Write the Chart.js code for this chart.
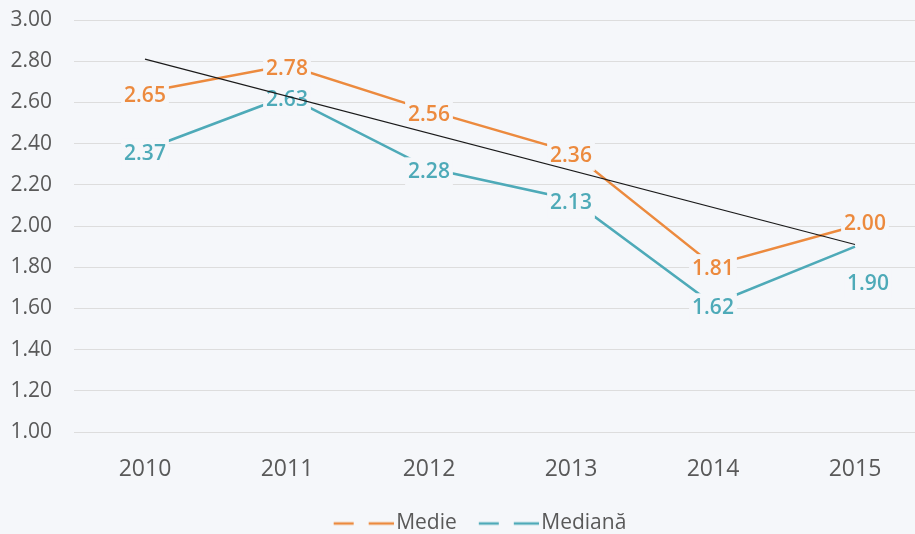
<!DOCTYPE html>
<html>
<head>
<meta charset="utf-8">
<script src="https://cdn.jsdelivr.net/npm/chart.js@4"></script>
<style>
    html, body { margin: 0; padding: 0; background: #f5f7fa; overflow: hidden; }
    #wrap { width: 926px; height: 534px; }
</style>
</head>
<body>
<div id="wrap"><canvas id="chart"></canvas></div>
<script>
// Données
const ani = ["2010", "2011", "2012", "2013", "2014", "2015"];
const medie = [2.65, 2.78, 2.56, 2.36, 1.81, 2.00];
const mediana = [2.37, 2.63, 2.28, 2.13, 1.62, 1.90];
const trendMedie = [2.81, null, null, null, null, 1.91];

const BG = "#f5f7fa";
const ORANGE = "#ec8a3e";
const TEAL = "#4eaab8";

// décalages des étiquettes (2015)
const labelOffsets = {
    1: { 5: [10, -6] },
    2: { 5: [13, 33] }
};

// petit trait pointillé pour la légende
function dashMarker(color) {
    const c = document.createElement("canvas");
    c.width = 68;
    c.height = 6;
    const g = c.getContext("2d");
    g.strokeStyle = color;
    g.lineWidth = 2.5;
    g.setLineDash([20, 15, 25]);
    g.beginPath();
    g.moveTo(8, 3);
    g.lineTo(68, 3);
    g.stroke();
    return c;
}

// étiquettes de valeurs avec fond
const valueLabels = {
    id: "valueLabels",
    afterDatasetDraw(chart, args) {
        const ds = chart.data.datasets[args.index];
        if (!ds.showLabels) return;
        const ctx = chart.ctx;
        ctx.save();
        ctx.font = "600 21px 'Open Sans'";
        ctx.textAlign = "center";
        ctx.textBaseline = "middle";
        args.meta.data.forEach((pt, i) => {
            const txt = ds.data[i].toFixed(2);
            const off = (labelOffsets[args.index] || {})[i] || [0, 0];
            const x = pt.x + off[0];
            const y = pt.y + off[1] + 4;
            const w = ctx.measureText(txt).width;
            ctx.fillStyle = BG;
            ctx.fillRect(x - w / 2 - 3, y - 15, w + 6, 30);
            ctx.fillStyle = ds.borderColor;
            ctx.fillText(txt, x, y);
        });
        ctx.restore();
    }
};

// légende un peu décalée vers la droite
const legendShift = {
    id: "legendShift",
    afterLayout(chart) {
        chart.legend.left += 17;
        chart.legend.right += 17;
    }
};

new Chart(document.getElementById("chart"), {
    type: "line",
    data: {
        labels: ani,
        datasets: [
            {
                label: "Trend",
                data: trendMedie,
                borderColor: "#1a1a1a",
                borderWidth: 1.2,
                pointRadius: 0,
                spanGaps: true,
                order: 0
            },
            {
                label: "Medie",
                data: medie,
                borderColor: ORANGE,
                borderWidth: 2.5,
                pointRadius: 0,
                showLabels: true,
                order: 2
            },
            {
                label: "Mediană",
                data: mediana,
                borderColor: TEAL,
                borderWidth: 2.5,
                pointRadius: 0,
                showLabels: true,
                order: 1
            }
        ]
    },
    options: {
        responsive: true,
        maintainAspectRatio: false,
        animation: false,
        layout: { padding: { left: 0, top: 0, right: 0, bottom: -10 } },
        scales: {
            x: {
                offset: true,
                grid: { display: false },
                border: { display: false },
                ticks: { color: "#595959", font: { family: "'Open Sans'", size: 23 }, padding: 16 },
                afterFit: s => { s.height = 59; }
            },
            y: {
                min: 1,
                max: 3,
                border: { display: false },
                grid: { color: "#dddddd", drawTicks: false },
                ticks: {
                    stepSize: 0.2,
                    color: "#595959",
                    font: { family: "'Open Sans'", size: 21 },
                    padding: 22,
                    callback: v => v.toFixed(2)
                },
                afterFit: s => {
                    s.width = 74;
                    s.paddingTop = 20;
                    s.paddingBottom = 0;
                }
            }
        },
        plugins: {
            tooltip: { enabled: false },
            legend: {
                position: "bottom",
                labels: {
                    color: "#595959",
                    font: { family: "'Open Sans'", size: 21 },
                    usePointStyle: true,
                    pointStyleWidth: 52,
                    padding: 22,
                    filter: item => item.text !== "Trend",
                    generateLabels: chart => chart.data.datasets.map((ds, i) => ({
                        text: ds.label,
                        datasetIndex: i,
                        strokeStyle: ds.borderColor,
                        fillStyle: ds.borderColor,
                        fontColor: "#595959",
                        lineWidth: 0,
                        pointStyle: dashMarker(ds.borderColor)
                    }))
                }
            }
        }
    },
    plugins: [valueLabels, legendShift]
});
</script>
</body>
</html>
